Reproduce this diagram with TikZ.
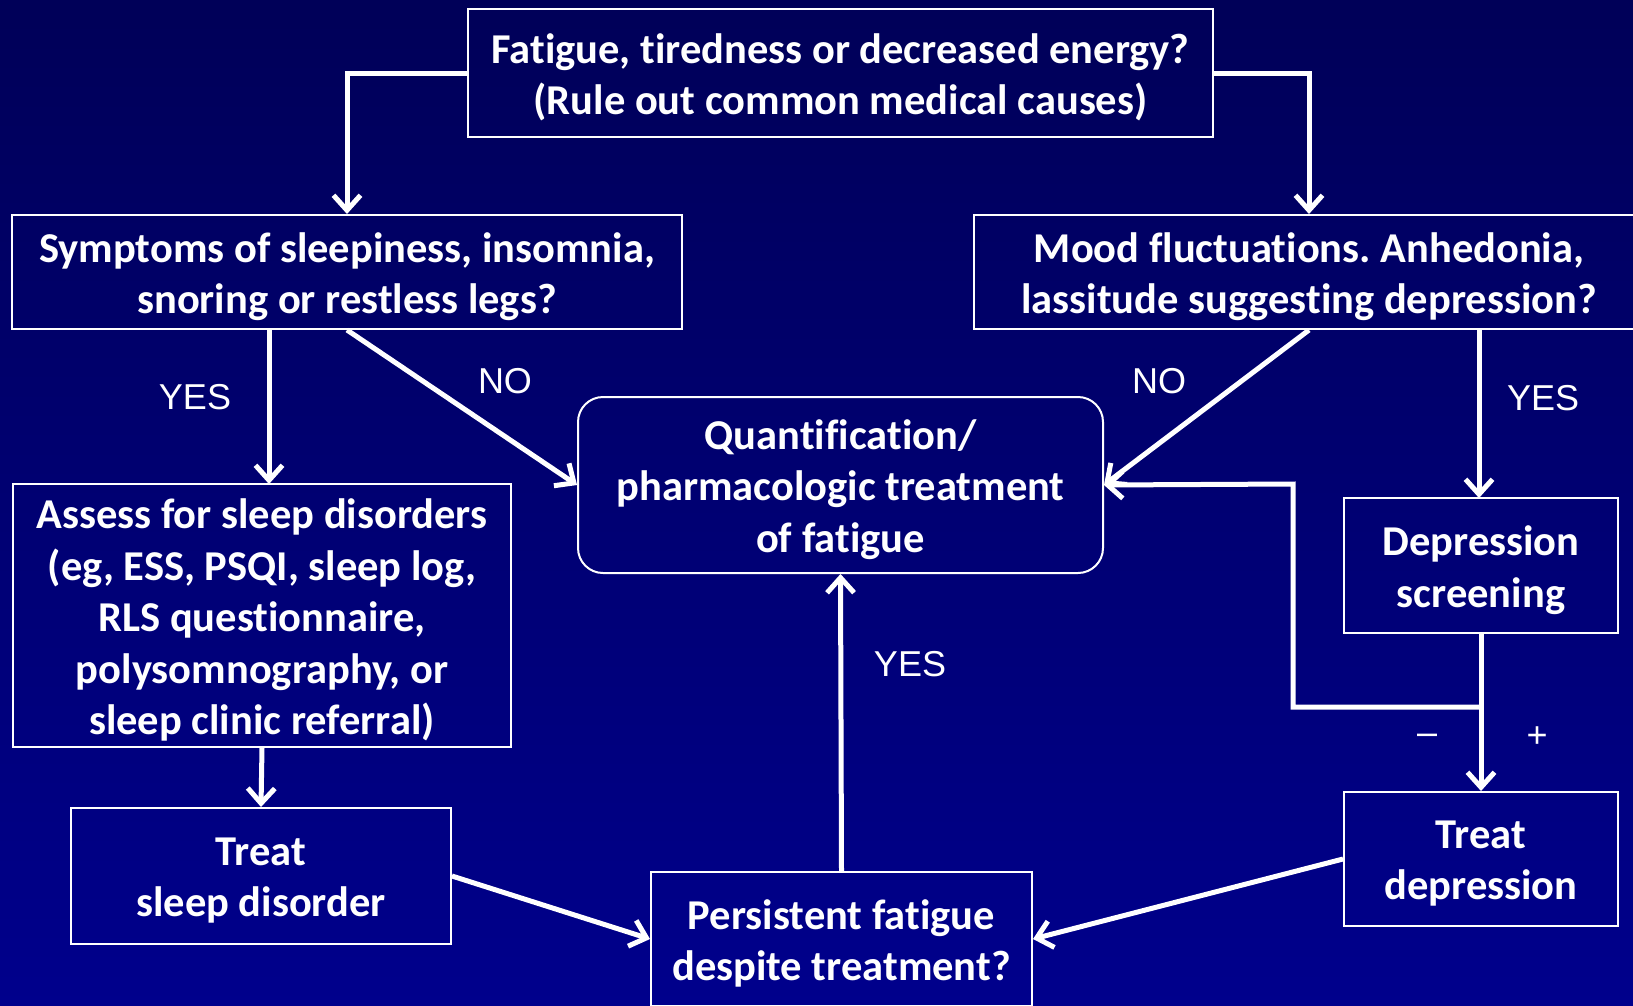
\documentclass[tikz,border=0pt]{standalone}
\usepackage{fontspec}
\setmainfont{Carlito}[Ligatures=CommonOff]
\newfontfamily\arialf{Liberation Sans}
\usetikzlibrary{arrows.meta,calc}
\definecolor{bgtop}{RGB}{0,0,88}
\definecolor{bgbot}{RGB}{0,0,140}
\frenchspacing
\begin{document}
\begin{tikzpicture}[x=1pt,y=-1pt,
  box/.style={draw=white, line width=2pt, inner sep=0pt},
  boxtext/.style={text=white, font=\fontsize{42.5}{51.5}\selectfont\bfseries, align=center, inner sep=0pt, yshift=-4.5pt},
  arr/.style={draw=white, line width=5pt, -{Straight Barb[length=15pt,width=27pt]}},
  lab/.style={text=white, font=\arialf\fontsize{36}{40}\selectfont, inner sep=0pt}]
\useasboundingbox (0,0) rectangle (1633,1005);
\shade[top color=bgtop, bottom color=bgbot] (0,0) rectangle (1633,1005);

\node[box, minimum width=745pt, minimum height=128pt, label={[boxtext]center:{Fatigue, tiredness or decreased energy?\\(Rule out common medical causes)}}] (top) at (840.5,73) {};
\node[box, minimum width=670pt, minimum height=114pt, label={[boxtext]center:{Symptoms of sleepiness, insomnia,\\snoring or restless legs?}}] (sleep) at (347,272) {};
\node[box, minimum width=670pt, minimum height=114pt, label={[boxtext]center:{Mood fluctuations. Anhedonia,\\lassitude suggesting depression?}}] (mood) at (1309,272) {};
\node[box, minimum width=525pt, minimum height=176pt, rounded corners=25pt, label={[boxtext]center:{Quantification/\\pharmacologic treatment\\of fatigue}}] (quant) at (840.5,485) {};
\node[box, minimum width=498pt, minimum height=263pt, label={[boxtext]center:{Assess for sleep disorders\\(eg, ESS, PSQI, sleep log,\\RLS questionnaire,\\polysomnography, or\\sleep clinic referral)}}] (assess) at (262,615.5) {};
\node[box, minimum width=274pt, minimum height=135pt, label={[boxtext]center:{Depression\\screening}}] (depscr) at (1481,565.5) {};
\node[box, minimum width=380pt, minimum height=136pt, label={[boxtext]center:{Treat\\sleep disorder}}] (tsleep) at (261,876) {};
\node[box, minimum width=274pt, minimum height=134pt, label={[boxtext]center:{Treat\\depression}}] (tdep) at (1481,859) {};
\node[box, minimum width=381pt, minimum height=134pt, label={[boxtext]center:{Persistent fatigue\\despite treatment?}}] (persist) at (841.5,939) {};

\coordinate (s1) at (269,329);
\coordinate (s2) at (269,484);
\coordinate (m1) at (1479,329);
\coordinate (m2) at (1479,498);
\coordinate (br) at (1481,707);
\coordinate (lp) at (1293,484);

\draw[arr] (top.west) -| (sleep.north);
\draw[arr] (top.east) -| (mood.north);
\draw[arr] (s1) -- (s2);
\draw[arr] (sleep.south) -- (quant.west);
\draw[arr] (mood.south) -- (quant.east);
\draw[arr] (m1) -- (m2);
\draw[arr] (depscr.south) -- (tdep.north);
\draw[arr, line join=miter] (br) -| (lp) -- (quant.east);
\draw[arr] (assess.south) -- (tsleep.north);
\draw[arr] (tsleep.east) -- (persist.west);
\draw[arr] (tdep.west) -- (persist.east);
\draw[arr] (persist.north) -- (quant.south);

\node[lab] (y1) at (195,397) {YES};
\node[lab] (n1) at (505,381) {NO};
\node[lab] (n2) at (1159,381) {NO};
\node[lab] (y2) at (1543,398) {YES};
\node[lab] (y3) at (910,664) {YES};
\node[lab] (mi) at (1427,739) {–};
\node[lab] (pl) at (1537,737) {+};
\end{tikzpicture}
\end{document}
